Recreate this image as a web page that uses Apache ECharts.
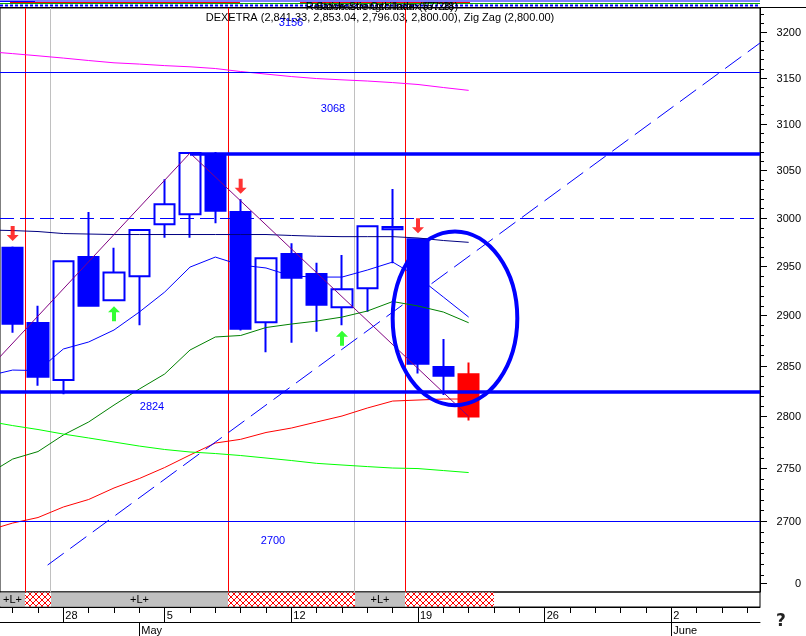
<!DOCTYPE html>
<html>
<head>
<meta charset="utf-8">
<script src="https://cdn.jsdelivr.net/npm/echarts@6/dist/echarts.min.js"></script>
<style>
html,body{margin:0;padding:0;background:#fff;}
#chart{width:806px;height:636px;}
</style>
</head>
<body>
<div id="chart"></div>
<script>
// ---------- DATA ----------
const tradingDays = ['2008-04-24','2008-04-25','2008-04-28','2008-04-29','2008-04-30','2008-05-02',
  '2008-05-05','2008-05-06','2008-05-07','2008-05-08','2008-05-09','2008-05-12','2008-05-13',
  '2008-05-14','2008-05-15','2008-05-16','2008-05-19','2008-05-20','2008-05-21','2008-05-22',
  '2008-05-23','2008-05-26','2008-05-27','2008-05-28','2008-05-29','2008-05-30','2008-06-02',
  '2008-06-03','2008-06-04','2008-06-05'];

const candleOpen  = [2969.1,2892.4,2835.6,2959.5,2915.3,2939.8,2993.4,3003.8,3065.3,3006.2,2893.1,2962.6,2942.1,2908.2,2927.5,2988.2,2977.8,2848.5,2841.33];
const candleHigh  = [2970.5,2909.9,2955.6,3006.2,2969.1,2988.0,3040.6,3069.5,3069.5,3019.5,2958.7,2973.7,2953.7,2961.6,2991.8,3030.3,2978.3,2876.4,2853.04];
const candleLow   = [2882.6,2830.0,2821.6,2909.4,2914.8,2890.1,2979.4,2979.4,2994.4,2885.0,2863.1,2872.7,2883.6,2890.1,2903.8,2953.1,2842.2,2820.9,2796.03];
const candleClose = [2891.7,2838.9,2955.1,2909.9,2943.8,2987.5,3014.3,3068.5,3007.6,2886.7,2958.2,2938.3,2910.9,2926.5,2991.3,2990.6,2851.8,2839.9,2800.00];

// indicator lines, first value belongs to the day before the first candle
const indicatorFirstIndex = -1;
const maMagenta = [3178.7,3176.4,3174.0,3171.5,3168.8,3166.3,3164.9,3163.2,3161.9,3160.0,3156.7,3153.9,3151.2,3149.0,3147.6,3146.3,3144.6,3142.5,3139.2,3136.1];
const maNavy    = [2987.5,2986.9,2985.9,2983.8,2983.3,2982.8,2982.8,2982.8,2982.8,2982.8,2982.8,2982.8,2981.8,2981.0,2980.6,2980.6,2980.6,2979.2,2976.6,2974.7];
const maBlue    = [2839.6,2845.5,2845.0,2866.4,2873.4,2885.4,2903.5,2923.7,2949.2,2959.5,2951.3,2948.3,2940.1,2939.0,2939.0,2946.2,2954.4,2939.0,2918.7,2898.4];
const maGreen   = [2744.0,2758.8,2766.0,2782.0,2794.6,2811.1,2826.8,2841.6,2865.4,2878.4,2879.9,2887.9,2891.4,2894.4,2898.4,2904.5,2914.1,2909.6,2903.5,2892.7];
const maRed     = [2691.0,2698.1,2703.3,2713.2,2720.3,2731.2,2740.2,2750.7,2762.7,2774.2,2777.8,2784.4,2788.7,2794.6,2800.4,2808.2,2815.0,2816.0,2817.0,2817.0];
const maLime    = [2795.4,2791.1,2787.3,2782.9,2779.1,2775.2,2771.3,2768.0,2765.6,2764.1,2762.2,2759.8,2757.4,2754.7,2753.1,2751.6,2750.2,2749.7,2747.8,2745.9];

const zigzagIndex = [-1, 7, 18];
const zigzagValue = [2845.2, 3068.5, 2800.0];

const trendIndex = [1.38, 29.5];
const trendValue = [2659.0, 3188.2];

const levelValues = [3156, 3068, 3000, 2824, 2700];

const sellSignals = [0, 9, 16];
const buySignals = [4, 13];

// [start, end, kind]  L = gray "+L+" band, X = red hatched band
const bands = [[-0.5,0.5,'L'],[0.5,1.5,'X'],[1.5,8.5,'L'],[8.5,13.5,'X'],[13.5,15.5,'L'],[15.5,19,'X']];

const yTickMajor = [3200,3150,3100,3050,3000,2950,2900,2850,2800,2750,2700];
const yTickExtra = {value: 2642, label: '0'};

const ellipseNote = {from: 15.0, to: 19.92, top: 2986, bottom: 2811};

const titleText = 'DEXETRA (2,841.33, 2,853.04, 2,796.03, 2,800.00), Zig Zag (2,800.00)';
const ghostTexts = ['Relative Strength Index (57.28)', 'Stochastic Oscillator (57.28)'];

// ---------- BUILD ----------
const FONT = 'Liberation Sans, Arial, sans-serif';
const XMIN = -0.5, XMAX = 29.5;
const BLUE = '#0000ff';

const monthNames = ['January','February','March','April','May','June','July','August','September','October','November','December'];
function dparts(s){ const a = s.split('-'); return {y:+a[0], m:+a[1], d:+a[2]}; }
function isMonday(i){ const p = dparts(tradingDays[i]); return new Date(Date.UTC(p.y,p.m-1,p.d)).getUTCDay() === 1; }
function isMonthStart(i){ return i > 0 && dparts(tradingDays[i]).m !== dparts(tradingDays[i-1]).m; }

const lastIdx = candleOpen.length - 1;
const candleData = candleOpen.map((o,i) => {
  const v = [i, o, candleClose[i], candleLow[i], candleHigh[i]];
  if (i === lastIdx) return {value: v, itemStyle:{color:'#ff0000',color0:'#ff0000',borderColor:'#ff0000',borderColor0:'#ff0000'}};
  return v;
});
const toXY = arr => arr.map((v,k) => [k + indicatorFirstIndex, v]);

function lineSeries(name, arr, color){
  return {name, type:'line', xAxisIndex:0, yAxisIndex:0, data: toXY(arr), symbol:'none', z:3,
    lineStyle:{color, width:1}, silent:true};
}

// y tick list
const yTicks = [];
for (let v = 3220; v >= 2650; v -= 10) {
  const major = yTickMajor.indexOf(v) >= 0;
  yTicks.push({value:v, major, label: major ? String(v) : ''});
}
yTicks.push({value:yTickExtra.value, major:true, label:yTickExtra.label});

// hatch pattern
const pc = document.createElement('canvas');
pc.width = 6; pc.height = 6;
(function(){
  const c = pc.getContext('2d');
  c.fillStyle = '#ffffff'; c.fillRect(0,0,6,6);
  c.strokeStyle = '#ff0000'; c.lineWidth = 1;
  c.beginPath(); c.moveTo(0,0); c.lineTo(6,6); c.moveTo(6,0); c.lineTo(0,6); c.stroke();
})();

const downArrow = 'path://M4,0 L8,0 L8,9 L12,9 L6,15 L0,9 L4,9 Z';
const upArrow = 'path://M6,0 L12,6 L8,6 L8,15 L4,15 L4,6 L0,6 Z';

const bandEdgeLines = bands.filter(b => b[0] > XMIN).map(b => ({
  xAxis: b[0], lineStyle:{color: b[2] === 'X' ? '#ff0000' : '#c0c0c0', width:1, type:'solid'}
}));

const levelLines = [
  {yAxis: levelValues[0], lineStyle:{color:BLUE, width:1, type:'solid'}},
  [{coord:[zigzagIndex[1], levelValues[1]], lineStyle:{color:BLUE, width:3.5, type:'solid'}}, {coord:[XMAX, levelValues[1]]}],
  {yAxis: levelValues[2], lineStyle:{color:BLUE, width:1, type:[14,6]}},
  {yAxis: levelValues[3], lineStyle:{color:BLUE, width:3.5, type:'solid'}},
  {yAxis: levelValues[4], lineStyle:{color:BLUE, width:1, type:'solid'}}
];

const levelLabelPos = [[291,23],[333,108.5],null,[152,407],[273,541]];

const graphics = [];
// top stripes (compressed indicator pane)
[
  {y:1, x0:0, x1:760, c:'#0000ff'},
  {y:1.5, x0:0, x1:35, c:'#0000ff'},
  {y:2.5, x0:10, x1:240, c:'#ff0000'},
  {y:2.5, x0:300, x1:470, c:'#ff0000'},
  {y:3.5, x0:0, x1:760, c:'#00aa00'},
].forEach(s => graphics.push({type:'line', silent:true, z:100,
  shape:{x1:s.x0, y1:s.y, x2:s.x1, y2:s.y}, style:{stroke:s.c, lineWidth:1}}));
graphics.push({type:'line', silent:true, z:100, shape:{x1:0,y1:5.5,x2:760,y2:5.5},
  style:{stroke:BLUE, lineWidth:2, lineDash:[3,2]}});
graphics.push({type:'line', silent:true, z:100, shape:{x1:0,y1:7.5,x2:806,y2:7.5},
  style:{stroke:'#000', lineWidth:1}});
ghostTexts.forEach((t,k) => graphics.push({type:'text', silent:true, z:101,
  style:{text:t, x:382 + k*3, y:7, align:'center', verticalAlign:'middle', font:'11px ' + FONT, fill:'#000'}}));
graphics.push({type:'text', silent:true, z:102,
  style:{text:titleText, x:380, y:18, align:'center', verticalAlign:'middle', font:'11px ' + FONT, fill:'#000'}});
levelValues.forEach((lv,k) => {
  const p = levelLabelPos[k];
  if (!p) return;
  graphics.push({type:'text', silent:true, z:103,
    style:{text:String(lv), x:p[0], y:p[1], align:'center', verticalAlign:'middle', font:'11px ' + FONT, fill:BLUE}});
});
graphics.push({type:'text', silent:true, z:103,
  style:{text:'?', x:781, y:622, align:'center', verticalAlign:'middle', font:'bold 17px DejaVu Sans', fill:'#222',
    textShadowColor:'#999', textShadowOffsetX:1, textShadowOffsetY:1, textShadowBlur:0}});

const option = {
  animation:false,
  backgroundColor:'#ffffff',
  grid:[
    {left:0, top:8, width:760, height:584, show:true, borderColor:'#000', borderWidth:1, backgroundColor:'#fff'},
    {left:0, top:592, width:760, height:15, show:true, borderColor:'#000', borderWidth:1},
    {left:0, top:607, width:760, height:15},
    {left:0, top:622, width:760, height:14}
  ],
  xAxis:[
    {gridIndex:0, type:'value', min:XMIN, max:XMAX, show:false, axisLine:{onZero:false}},
    {gridIndex:1, type:'value', min:XMIN, max:XMAX, show:false, axisLine:{onZero:false}},
    {gridIndex:2, type:'category', data:tradingDays, position:'top',
      axisLine:{show:true, onZero:false, lineStyle:{color:'#000', width:1}},
      axisTick:{show:true, interval:0, alignWithLabel:true, inside:true, length:6, lineStyle:{color:'#000'}},
      axisLabel:{show:true, inside:true, margin:3, align:'left', padding:[0,0,0,2],
        interval:(i) => isMonday(i), formatter:(v) => String(dparts(v).d),
        fontFamily:FONT, fontSize:11, color:'#000'},
      splitLine:{show:false}},
    {gridIndex:2, type:'category', data:tradingDays, position:'top',
      axisLine:{show:false, onZero:false},
      axisTick:{show:true, interval:(i) => isMonday(i), alignWithLabel:true, inside:true, length:15, lineStyle:{color:'#000'}},
      axisLabel:{show:false}, splitLine:{show:false}},
    {gridIndex:3, type:'category', data:tradingDays, position:'top',
      axisLine:{show:true, onZero:false, lineStyle:{color:'#000', width:1}},
      axisTick:{show:true, interval:(i) => isMonthStart(i), alignWithLabel:true, inside:true, length:14, lineStyle:{color:'#000'}},
      axisLabel:{show:true, inside:true, margin:3, align:'left', padding:[0,0,0,2],
        interval:(i) => isMonthStart(i), formatter:(v) => monthNames[dparts(v).m - 1],
        fontFamily:FONT, fontSize:11, color:'#000'},
      splitLine:{show:false}}
  ],
  yAxis:[
    {gridIndex:0, type:'log', logBase:10, min:2634.2, max:3227.2, position:'right',
      axisLine:{show:true, onZero:false, lineStyle:{color:'#000', width:1}}, axisTick:{show:false}, axisLabel:{show:false}, splitLine:{show:false}},
    {gridIndex:1, type:'value', min:0, max:1, show:false, axisLine:{onZero:false}},
    {gridIndex:2, type:'value', min:0, max:1, show:false, axisLine:{onZero:false}},
    {gridIndex:3, type:'value', min:0, max:1, show:false, axisLine:{onZero:false}}
  ],
  graphic: graphics,
  series:[
    {name:'DEXETRA', type:'candlestick', xAxisIndex:0, yAxisIndex:0, z:2,
      encode:{x:0, y:[1,2,3,4]}, barWidth:21,
      itemStyle:{color:'#ffffff', color0:BLUE, borderColor:BLUE, borderColor0:BLUE, borderWidth:2},
      data:candleData,
      markLine:{silent:true, symbol:['none','none'], label:{show:false}, animation:false, data:bandEdgeLines, z:1}},
    lineSeries('MA magenta', maMagenta, '#ff00ff'),
    lineSeries('MA navy', maNavy, '#000080'),
    lineSeries('MA blue', maBlue, '#0000ff'),
    lineSeries('MA green', maGreen, '#008000'),
    lineSeries('MA red', maRed, '#ff0000'),
    lineSeries('MA lime', maLime, '#00ff00'),
    {name:'Zig Zag', type:'line', xAxisIndex:0, yAxisIndex:0, z:4, symbol:'none', silent:true,
      data: zigzagIndex.map((x,k) => [x, zigzagValue[k]]),
      lineStyle:{color:'#800080', width:1},
      markLine:{silent:true, symbol:['none','none'], label:{show:false}, animation:false, data:levelLines}},
    {name:'Trend', type:'line', xAxisIndex:0, yAxisIndex:0, z:4, symbol:'none', silent:true,
      data: trendIndex.map((x,k) => [x, trendValue[k]]),
      lineStyle:{color:BLUE, width:1, type:[20,8]}},
    {name:'Sell', type:'scatter', xAxisIndex:0, yAxisIndex:0, z:6, silent:true,
      symbol:downArrow, symbolSize:[12,15], symbolOffset:[0,-13],
      itemStyle:{color:'#ff0000'},
      data: sellSignals.map(i => [i, candleHigh[i]])},
    {name:'Buy', type:'scatter', xAxisIndex:0, yAxisIndex:0, z:6, silent:true,
      symbol:upArrow, symbolSize:[12,15], symbolOffset:[0,13],
      itemStyle:{color:'#00ff00'},
      data: buySignals.map(i => [i, candleLow[i]])},
    {name:'Ellipse', type:'custom', xAxisIndex:0, yAxisIndex:0, z:7, silent:true,
      data:[[ellipseNote.from, ellipseNote.top]],
      renderItem:(params, api) => {
        const p0 = api.coord([ellipseNote.from, ellipseNote.top]);
        const p1 = api.coord([ellipseNote.to, ellipseNote.bottom]);
        return {type:'ellipse', shape:{cx:(p0[0]+p1[0])/2, cy:(p0[1]+p1[1])/2, rx:Math.abs(p1[0]-p0[0])/2, ry:Math.abs(p1[1]-p0[1])/2},
          style:{fill:'none', stroke:BLUE, lineWidth:4}};
      }},
    {name:'Y ticks', type:'custom', xAxisIndex:0, yAxisIndex:0, z:8, silent:true, clip:false,
      data: yTicks.map(t => [XMAX, t.value]),
      renderItem:(params, api) => {
        const t = yTicks[params.dataIndex];
        const p = api.coord([XMAX, t.value]);
        const y = Math.round(p[1]) + 0.5;
        const ch = [{type:'line', shape:{x1:p[0], y1:y, x2:p[0] + (t.major ? 7 : 4), y2:y}, style:{stroke:'#000', lineWidth:1}}];
        if (t.label) ch.push({type:'text', style:{text:t.label, x:801, y:y, align:'right', verticalAlign:'middle', font:'11px ' + FONT, fill:'#000'}});
        return {type:'group', children:ch};
      }},
    {name:'Bands', type:'custom', xAxisIndex:1, yAxisIndex:1, z:2, silent:true, clip:false,
      data: bands.map(b => [b[0], 0]),
      renderItem:(params, api) => {
        const b = bands[params.dataIndex];
        const p0 = api.coord([b[0], 1]);
        const p1 = api.coord([b[1], 0]);
        const x0 = Math.round(p0[0]), x1 = Math.round(p1[0]);
        const ch = [{type:'rect', shape:{x:x0, y:p0[1]+0.5, width:x1-x0, height:p1[1]-p0[1]-1},
          style:{fill: b[2] === 'X' ? {image: pc, repeat:'repeat'} : '#c0c0c0'}}];
        if (b[2] === 'L') ch.push({type:'text', style:{text:'+L+', x:(x0+x1)/2, y:(p0[1]+p1[1])/2,
          align:'center', verticalAlign:'middle', font:'11px ' + FONT, fill:'#000'}});
        return {type:'group', children:ch};
      }}
  ]
};

const chart = echarts.init(document.getElementById('chart'), null, {renderer:'canvas'});
chart.setOption(option);
</script>
</body>
</html>
